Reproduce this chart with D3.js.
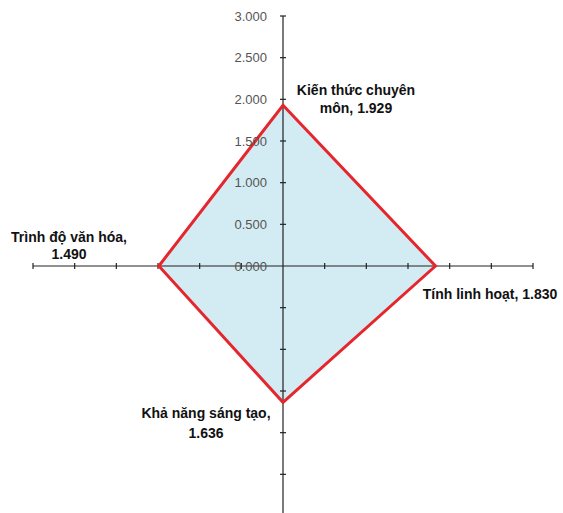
<!DOCTYPE html>
<html><head><meta charset="utf-8">
<script src="https://cdn.jsdelivr.net/npm/d3@7"></script>
<style>html,body{margin:0;padding:0;background:#fff;}svg{display:block;}</style>
</head><body>
<svg id="c" width="563" height="513"></svg>
<script>
const categories = ["Kiến thức chuyên môn", "Tính linh hoạt", "Khả năng sáng tạo", "Trình độ văn hóa"];
const values = [1.929, 1.830, 1.636, 1.490];
const tickValues = [0, 0.5, 1, 1.5, 2, 2.5, 3];
const tickLabels = ["0.000", "0.500", "1.000", "1.500", "2.000", "2.500", "3.000"];

const svg = d3.select("#c");
const cx = 283, cy = 266;
const r = d3.scaleLinear().domain([0, 3]).range([0, 250]);
const angles = [-Math.PI/2, 0, Math.PI/2, Math.PI];
const g = svg.append("g").attr("transform", `translate(${cx},${cy})`);

// polygon
const pts = values.map((v, i) => [r(v) * Math.cos(angles[i]), r(v) * Math.sin(angles[i])]);
g.append("path").attr("d", d3.line()(pts) + "Z")
  .attr("fill", "#d3ebf2").attr("stroke", "none");

// axes
angles.forEach(a => {
  const ca = Math.round(Math.cos(a)), sa = Math.round(Math.sin(a));
  g.append("line").attr("x1", 0).attr("y1", 0)
    .attr("x2", r(3) * ca).attr("y2", r(3) * sa)
    .attr("stroke", "#222").attr("stroke-width", 1.2);
  tickValues.slice(1).forEach(t => {
    const x = r(t) * ca, y = r(t) * sa;
    g.append("line")
      .attr("x1", x - 3 * Math.abs(sa)).attr("x2", x + 3 * Math.abs(sa))
      .attr("y1", y - 3 * Math.abs(ca)).attr("y2", y + 3 * Math.abs(ca))
      .attr("stroke", "#222").attr("stroke-width", 1.2);
  });
});

g.append("path").attr("d", d3.line()(pts) + "Z")
  .attr("fill", "none").attr("stroke", "#e5262c").attr("stroke-width", 3).attr("stroke-linejoin", "miter");

// tick labels on vertical axis
g.selectAll("text.tk").data(tickValues).enter().append("text")
  .attr("x", -16).attr("y", d => -r(d)).attr("dy", "0.35em")
  .attr("text-anchor", "end")
  .attr("font-family", "Liberation Sans, Arial, sans-serif")
  .attr("font-size", 13).attr("fill", "#555")
  .text((d, i) => tickLabels[i]);

// data labels
const fmt = d3.format(".3f");
const lab = (lines, x, y, gap, anchor) => {
  const t = svg.append("text").attr("text-anchor", anchor)
    .attr("font-family", "Liberation Sans, Arial, sans-serif")
    .attr("font-weight", "bold").attr("font-size", 14).attr("fill", "#111");
  lines.forEach((l, i) => t.append("tspan").attr("x", x).attr("y", y + i * gap).text(l));
};
lab(["Kiến thức chuyên", "môn, " + fmt(values[0])], 356, 95, 18, "middle");
lab([categories[1] + ", " + fmt(values[1])], 490, 299, 18, "middle");
lab(["Khả năng sáng tạo,", fmt(values[2])], 206, 418, 20, "middle");
lab(["Trình độ văn hóa,", fmt(values[3])], 69, 242, 17, "middle");
</script>
</body></html>
